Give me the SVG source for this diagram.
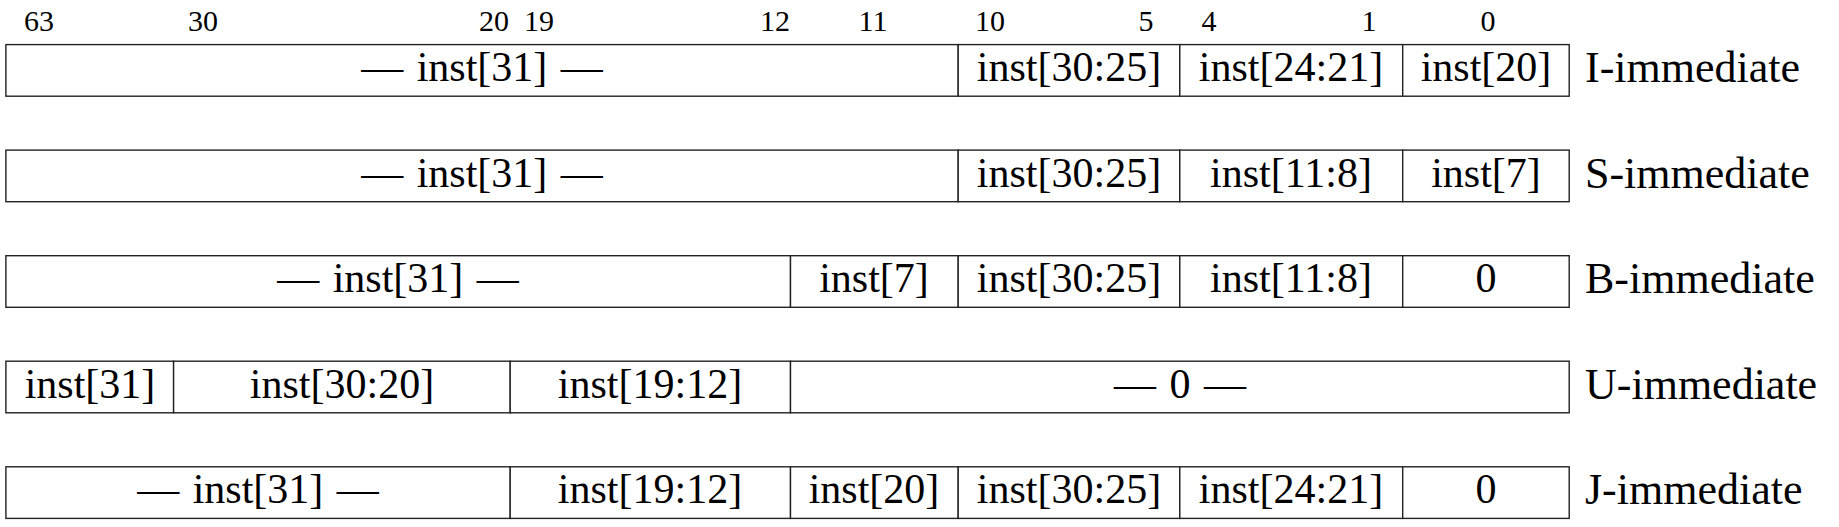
<svg xmlns="http://www.w3.org/2000/svg" width="1839" height="527" viewBox="0 0 1839 527">
<style>
.cell{fill:#fff;stroke:#222;stroke-width:1.4}
.t{font-family:"Liberation Serif","Times New Roman",serif;font-size:42px;fill:#000;text-anchor:middle}
.dash{word-spacing:3px}
.lbl{font-family:"Liberation Serif","Times New Roman",serif;font-size:44px;fill:#000;text-anchor:start}
.bit{font-family:"Liberation Serif","Times New Roman",serif;font-size:30px;fill:#000;text-anchor:middle}
</style>
<rect width="1839" height="527" fill="#fff"/>
<g id="bits">
<text class="bit" x="39" y="31">63</text>
<text class="bit" x="203" y="31">30</text>
<text class="bit" x="494" y="31">20</text>
<text class="bit" x="539" y="31">19</text>
<text class="bit" x="775" y="31">12</text>
<text class="bit" x="873" y="31">11</text>
<text class="bit" x="990" y="31">10</text>
<text class="bit" x="1146" y="31">5</text>
<text class="bit" x="1209" y="31">4</text>
<text class="bit" x="1369" y="31">1</text>
<text class="bit" x="1488" y="31">0</text>
</g>
<g id="i-imm">
<rect class="cell" x="5.9" y="44.6" width="952.3" height="51.6"/>
<text class="t dash" x="482" y="81">— inst[31] —</text>
<rect class="cell" x="958.2" y="44.6" width="221.6" height="51.6"/>
<text class="t" x="1069" y="81">inst[30:25]</text>
<rect class="cell" x="1179.8" y="44.6" width="222.9" height="51.6"/>
<text class="t" x="1291" y="81">inst[24:21]</text>
<rect class="cell" x="1402.7" y="44.6" width="166.5" height="51.6"/>
<text class="t" x="1486" y="81">inst[20]</text>
<text class="lbl" x="1585" y="82">I-immediate</text>
</g>
<g id="s-imm">
<rect class="cell" x="5.9" y="150.1" width="952.3" height="51.6"/>
<text class="t dash" x="482" y="186.5">— inst[31] —</text>
<rect class="cell" x="958.2" y="150.1" width="221.6" height="51.6"/>
<text class="t" x="1069" y="186.5">inst[30:25]</text>
<rect class="cell" x="1179.8" y="150.1" width="222.9" height="51.6"/>
<text class="t" x="1291" y="186.5">inst[11:8]</text>
<rect class="cell" x="1402.7" y="150.1" width="166.5" height="51.6"/>
<text class="t" x="1486" y="186.5">inst[7]</text>
<text class="lbl" x="1585" y="187.5">S-immediate</text>
</g>
<g id="b-imm">
<rect class="cell" x="5.9" y="255.7" width="784.6" height="51.6"/>
<text class="t dash" x="398" y="292">— inst[31] —</text>
<rect class="cell" x="790.5" y="255.7" width="167.7" height="51.6"/>
<text class="t" x="874" y="292">inst[7]</text>
<rect class="cell" x="958.2" y="255.7" width="221.6" height="51.6"/>
<text class="t" x="1069" y="292">inst[30:25]</text>
<rect class="cell" x="1179.8" y="255.7" width="222.9" height="51.6"/>
<text class="t" x="1291" y="292">inst[11:8]</text>
<rect class="cell" x="1402.7" y="255.7" width="166.5" height="51.6"/>
<text class="t" x="1486" y="292">0</text>
<text class="lbl" x="1585" y="293">B-immediate</text>
</g>
<g id="u-imm">
<rect class="cell" x="5.9" y="361.2" width="167.7" height="51.6"/>
<text class="t" x="90" y="397.5">inst[31]</text>
<rect class="cell" x="173.6" y="361.2" width="336.6" height="51.6"/>
<text class="t" x="342" y="397.5">inst[30:20]</text>
<rect class="cell" x="510.2" y="361.2" width="280.3" height="51.6"/>
<text class="t" x="650" y="397.5">inst[19:12]</text>
<rect class="cell" x="790.5" y="361.2" width="778.7" height="51.6"/>
<text class="t dash" x="1180" y="397.5">— 0 —</text>
<text class="lbl" x="1585" y="398.5">U-immediate</text>
</g>
<g id="j-imm">
<rect class="cell" x="5.9" y="466.8" width="504.3" height="51.6"/>
<text class="t dash" x="258" y="503">— inst[31] —</text>
<rect class="cell" x="510.2" y="466.8" width="280.3" height="51.6"/>
<text class="t" x="650" y="503">inst[19:12]</text>
<rect class="cell" x="790.5" y="466.8" width="167.7" height="51.6"/>
<text class="t" x="874" y="503">inst[20]</text>
<rect class="cell" x="958.2" y="466.8" width="221.6" height="51.6"/>
<text class="t" x="1069" y="503">inst[30:25]</text>
<rect class="cell" x="1179.8" y="466.8" width="222.9" height="51.6"/>
<text class="t" x="1291" y="503">inst[24:21]</text>
<rect class="cell" x="1402.7" y="466.8" width="166.5" height="51.6"/>
<text class="t" x="1486" y="503">0</text>
<text class="lbl" x="1585" y="504">J-immediate</text>
</g>
</svg>
